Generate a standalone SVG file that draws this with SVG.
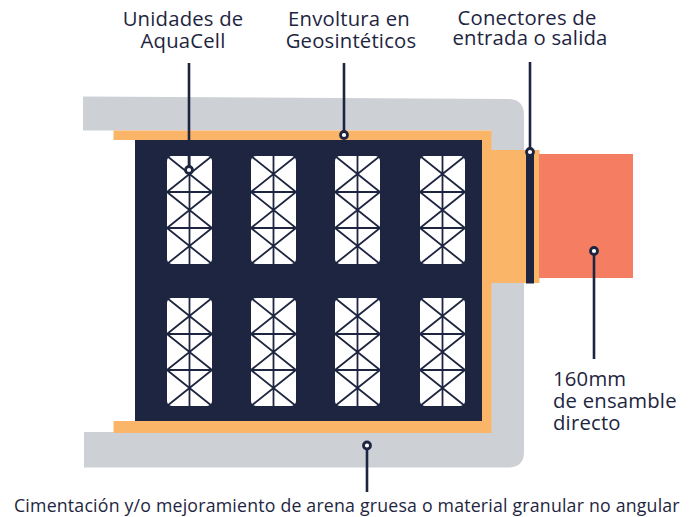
<svg xmlns="http://www.w3.org/2000/svg" width="696" height="517" viewBox="0 0 696 517">
<style>
text{font-family:"Open Sans","Liberation Sans",sans-serif;font-size:20.300px;fill:#1e2540;letter-spacing:.2px}
.m{text-anchor:middle}
.lead{stroke:#1e2540;stroke-width:2.6;fill:none}
.dot{fill:#fff;stroke:#1e2540;stroke-width:2.8}
.x{stroke:#1e2540;stroke-width:1.8;fill:none}
.b{fill:#fff}
</style>
<defs>
<g id="cell">
<rect class="b" width="45" height="108" rx="5"/>
<path class="x" d="M22.500 0V108M0 36H45M0 72H45M0 0L45 36M45 0L0 36M0 36L45 72M45 36L0 72M0 72L45 108M45 72L0 108"/>
</g>
</defs>
<g id="cimentacion"><path fill="#cdd0d5" d="M83 96.500L508 99Q524 99 524 115V452Q524 467.500 508 467.500H84V432H491V130.500H83Z"/></g>
<g id="envoltura"><path fill="#fbb568" d="M113.500 130.500H491.500V150H539.500V283H491.500V433H113.500V421H135V140H113.500Z"/></g>
<g id="tuberia"><rect x="539" y="154" width="94" height="124" fill="#f57e62"/></g>
<g id="relleno"><rect x="135" y="140" width="347" height="281" fill="#1e2540"/></g>
<g id="conector"><rect x="526" y="150" width="8" height="133.500" fill="#1e2540"/></g>
<g id="unidades">
<use href="#cell" x="167" y="156"/><use href="#cell" x="251" y="156"/><use href="#cell" x="335" y="156"/><use href="#cell" x="420" y="156"/>
<use href="#cell" x="167" y="298"/><use href="#cell" x="251" y="298"/><use href="#cell" x="335" y="298"/><use href="#cell" x="420" y="298"/>
</g>
<g id="connectors">
<path class="lead" d="M189 63V170M344 63V135M530 62V152M594 251V359M367 445V492"/>
<circle class="dot" cx="189" cy="170" r="3.500"/>
<circle class="dot" cx="344" cy="135" r="3.500"/>
<circle class="dot" cx="530" cy="152" r="3.500"/>
<circle class="dot" cx="594" cy="251" r="3.500"/>
<circle class="dot" cx="367" cy="445.500" r="3.500"/>
</g>
<g id="labels">
<text class="m" x="183" y="26">Unidades de</text><text class="m" x="183" y="48">AquaCell</text>
<text class="m" x="349" y="26">Envoltura en</text><text class="m" x="351" y="48">Geosintéticos</text>
<text class="m" x="527" y="25">Conectores de</text><text class="m" x="530" y="45">entrada o salida</text>
<text x="553" y="386">160mm</text><text x="553" y="408">de ensamble</text><text x="553" y="430">directo</text>
<text x="14" y="512" style="font-size:17.730px">Cimentación y/o mejoramiento de arena gruesa o material granular no angular</text>
</g>
</svg>
